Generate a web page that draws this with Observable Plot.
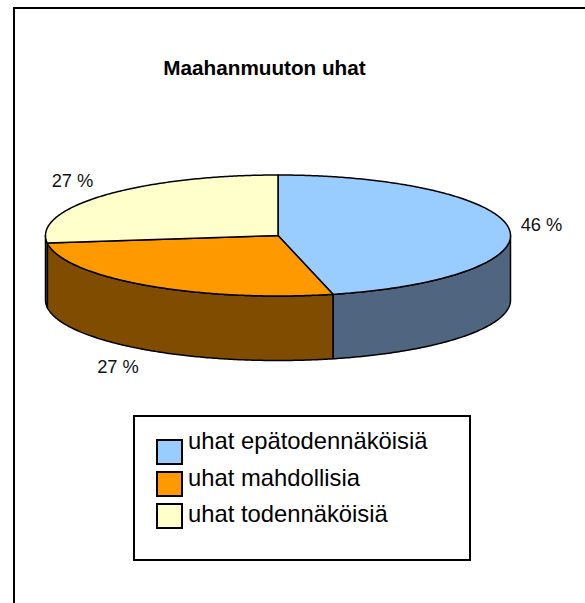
<!DOCTYPE html>
<html><head><meta charset="utf-8">
<style>html,body{margin:0;padding:0;background:#fff;overflow:hidden}svg{display:block}</style>
<script src="https://cdn.jsdelivr.net/npm/d3@7"></script>
<script src="https://cdn.jsdelivr.net/npm/@observablehq/plot@0.6"></script>
</head><body><div id="c"></div>
<script>
const title = "Maahanmuuton uhat";
const categories = ["uhat epätodennäköisiä","uhat mahdollisia","uhat todennäköisiä"];
const values = [46.2,26.8,27];
const topColors = ["#99ccff","#ff9900","#ffffcc"];
const sideColors = ["#4f6580","#804d00","#808066"];

const W=585,H=603, F="'Liberation Sans',Arial,sans-serif";
const cx=277.5,cy=235,rx=232.5,ry=60.5,depth=64.5;
const total=d3.sum(values);
const pt=(a,dy=0)=>[cx+rx*Math.sin(a),cy-ry*Math.cos(a)+dy];
let acc=0;
const slices=values.map((v,i)=>{const a0=acc/total*2*Math.PI;acc+=v;const a1=acc/total*2*Math.PI;return {i,a0,a1};});
const arc=(a0,a1,dy=0)=>{const n=Math.max(2,Math.ceil((a1-a0)/0.01));return d3.range(n+1).map(k=>pt(a0+(a1-a0)*k/n,dy));};
const topPts=[],sidePts=[];
const front0=Math.PI/2,front1=1.5*Math.PI;
slices.forEach(s=>{
  [[cx,cy],...arc(s.a0,s.a1)].forEach(([x,y])=>topPts.push({x,y,k:categories[s.i]}));
  const a0=Math.max(s.a0,front0),a1=Math.min(s.a1,front1);
  if(a0<a1){
    [...arc(a0,a1),...arc(a0,a1,depth).reverse()].forEach(([x,y])=>sidePts.push({x,y,k:categories[s.i],f:sideColors[s.i]}));
  }
});
const frame=[{x1:14,y1:8,x2:640,y2:660}];
const legendBox=[{x1:134,y1:416,x2:470,y2:560}];
const legend=categories.map((c,i)=>({c,x1:157,x2:182,y1:440+i*32,y2:464+i*32,tx:187.5,ty:441+i*36.5}));
const labels=[
 {t:Math.round(values[0])+" %",x:541,y:225},
 {t:Math.round(values[1])+" %",x:117.5,y:367},
 {t:Math.round(values[2])+" %",x:72,y:181}];
const plot=Plot.plot({
 width:W,height:H,margin:0,
 x:{domain:[0,W],range:[0,W],axis:null},
 y:{domain:[0,H],range:[0,H],axis:null},
 color:{domain:categories,range:topColors},
 marks:[
  Plot.rect(frame,{x1:"x1",x2:"x2",y1:"y1",y2:"y2",fill:"white",stroke:"black",strokeWidth:2}),
  Plot.line(sidePts,{x:"x",y:"y",z:"k",fill:"f",stroke:"black",strokeWidth:1.5,curve:"linear-closed"}),
  Plot.line(topPts,{x:"x",y:"y",z:"k",fill:"k",stroke:"black",strokeWidth:1.5,curve:"linear-closed"}),
  Plot.text([title],{x:()=>264,y:()=>68,text:d=>d,fontFamily:F,fontWeight:"bold",fontSize:20.7,fill:"black"}),
  Plot.text(labels,{x:"x",y:"y",text:"t",fontFamily:F,fontSize:18.3,fill:"#111"}),
  Plot.rect(legendBox,{x1:"x1",x2:"x2",y1:"y1",y2:"y2",fill:"white",stroke:"black",strokeWidth:2}),
  Plot.rect(legend,{x1:"x1",x2:"x2",y1:"y1",y2:"y2",fill:"c",stroke:"black",strokeWidth:2}),
  Plot.text(legend,{x:"tx",y:"ty",text:"c",textAnchor:"start",fontFamily:F,fontSize:23.8,fill:"black"})
 ]});
document.getElementById("c").append(plot);
</script></body></html>
